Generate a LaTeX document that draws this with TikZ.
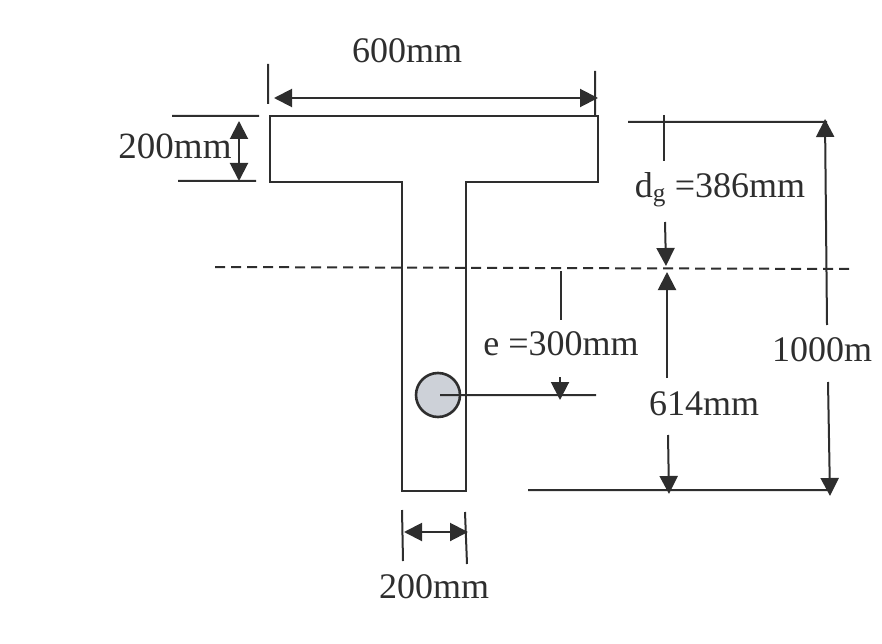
\documentclass[tikz,border=0pt]{standalone}
\usepackage{fontspec}
\setmainfont{Liberation Serif}
\usetikzlibrary{arrows.meta}

\begin{document}
\begin{tikzpicture}[x=1pt,y=-1pt]
		\definecolor{inkgrey}{HTML}{2E2E2E}
		\definecolor{steelgrey}{HTML}{CDD1D8}
		\tikzstyle{DimLabel}  = [text=inkgrey,inner sep=0pt,font=\fontsize{36}{40}\selectfont]
		\tikzstyle{DimLine}   = [draw=inkgrey,line width=2pt]
		\tikzstyle{DimArrow}  = [DimLine,-{Triangle[width=18pt,length=18pt]}]
		\tikzstyle{DimArrows} = [DimLine,{Triangle[width=18pt,length=18pt]}-{Triangle[width=18pt,length=18pt]}]
		\useasboundingbox (0,0) rectangle (882,644);

		% T section
		\draw[draw=inkgrey,line width=2.6pt] (270,116) -- (598,116) -- (598,182) -- (466,182) -- (466,491) -- (402,491) -- (402,182) -- (270,182) -- cycle;
		\draw[DimLine,dash pattern=on 10pt off 6pt] (215,267) coordinate (naLeft) -- (850,269) coordinate (naRight);
		\node[circle,draw=inkgrey,fill=steelgrey,line width=2.6pt,minimum size=44pt,inner sep=0pt] (Tendon) at (438,395) {};

		% labels
		\node[DimLabel] (TopWidth) at (407,51) {600mm};
		\node[DimLabel,font=\fontsize{37}{40}\selectfont] (FlangeDepth) at (175,146) {200mm};
		\node[DimLabel] (Dg) at (720,190) {d\textsubscript{g} =386mm};
		\node[DimLabel] (Total) at (822,350) {1000m};
		\node[DimLabel] (Ecc) at (561,344) {e =300mm};
		\node[DimLabel] (Below) at (704,404) {614mm};
		\node[DimLabel] (WebWidth) at (434,587) {200mm};

		% extension lines
		\coordinate (t1) at (268,64);   \coordinate (t2) at (268,104);
		\coordinate (t3) at (595,71);   \coordinate (t4) at (595,116);
		\coordinate (f1) at (172,116);  \coordinate (f2) at (259,116);
		\coordinate (f3) at (178,181);  \coordinate (f4) at (256,181);
		\coordinate (r1) at (628,122);  \coordinate (r2) at (827,122);
		\coordinate (r3) at (528,490);  \coordinate (r4) at (830,490);
		\coordinate (w1) at (402,510);  \coordinate (w2) at (403,561);
		\coordinate (w3) at (465,512);  \coordinate (w4) at (467,564);
		\coordinate (c1) at (440,395);  \coordinate (c2) at (596,395);
		\draw[DimLine] (t1)--(t2) (t3)--(t4) (f1)--(f2) (f3)--(f4) (r1)--(r2) (r3)--(r4) (w1)--(w2) (w3)--(w4) (c1)--(c2);

		% dimension arrows
		\coordinate (a1) at (274,98);   \coordinate (a2) at (598,98);
		\coordinate (b1) at (239,121);  \coordinate (b2) at (239,181);
		\coordinate (d1) at (404,532);  \coordinate (d2) at (468,532);
		\draw[DimArrows] (a1)--(a2);
		\draw[DimArrows] (b1)--(b2);
		\draw[DimArrows] (d1)--(d2);

		\coordinate (g1) at (664,115);  \coordinate (g2) at (664,161);
		\coordinate (g3) at (665,222);  \coordinate (g4) at (666,266);
		\coordinate (h1) at (667,378);  \coordinate (h2) at (667,272);
		\coordinate (h3) at (668,435);  \coordinate (h4) at (669,494);
		\coordinate (k1) at (827,325);  \coordinate (k2) at (825,119);
		\coordinate (k3) at (828,382);  \coordinate (k4) at (830,496);
		\coordinate (e1) at (561,271);  \coordinate (e2) at (561,320);
		\coordinate (e3) at (560,377);  \coordinate (e4) at (560,400);
		\draw[DimLine] (g1)--(g2); \draw[DimLine] (e1)--(e2);
		\draw[DimArrow] (g3)--(g4); \draw[DimArrow] (h1)--(h2); \draw[DimArrow] (h3)--(h4);
		\draw[DimArrow] (k1)--(k2); \draw[DimArrow] (k3)--(k4); \draw[DimArrow] (e3)--(e4);
	\end{tikzpicture}
\end{document}
